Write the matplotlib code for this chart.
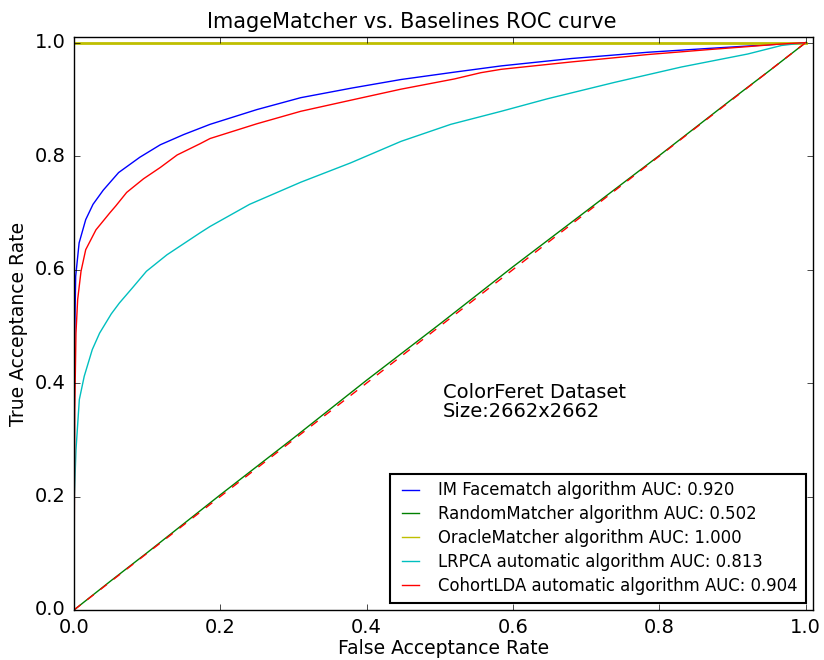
import numpy as np
import matplotlib
matplotlib.use("Agg")
import matplotlib.pyplot as plt

plt.style.use("classic")

# ROC points (FAR, TAR)
im_far = [0, 0.0005, 0.0023, 0.007, 0.016, 0.026, 0.04, 0.061, 0.09, 0.118, 0.15, 0.186,
          0.25, 0.31, 0.38, 0.447, 0.52, 0.584, 0.68, 0.784, 0.87, 0.921, 0.96, 1.0]
im_tar = [0, 0.45, 0.588, 0.647, 0.688, 0.715, 0.74, 0.771, 0.798, 0.82, 0.838, 0.856,
          0.882, 0.903, 0.92, 0.935, 0.948, 0.959, 0.972, 0.983, 0.99, 0.994, 0.997, 1.0]

rand_far = [0, 0.05, 0.1, 0.2, 0.3, 0.4, 0.5, 0.6, 0.7, 0.8, 0.9, 0.95, 1.0]
rand_tar = [0, 0.051, 0.101, 0.203, 0.303, 0.405, 0.504, 0.605, 0.703, 0.801, 0.901, 0.95, 1.0]

oracle_far = [0, 1.0]
oracle_tar = [1.0, 1.0]

lrpca_far = [0, 0.0005, 0.0027, 0.0073, 0.014, 0.025, 0.035, 0.051, 0.062, 0.080, 0.099, 0.127,
             0.1726, 0.186, 0.24, 0.31, 0.378, 0.447, 0.515, 0.584, 0.647, 0.739, 0.830,
             0.921, 0.967, 1.0]
lrpca_tar = [0, 0.2, 0.282, 0.371, 0.412, 0.459, 0.488, 0.522, 0.541, 0.568, 0.597, 0.626,
             0.665, 0.676, 0.715, 0.754, 0.788, 0.826, 0.856, 0.879, 0.901, 0.930, 0.957,
             0.980, 0.995, 1.0]

lda_far = [0, 0.0003, 0.001, 0.0027, 0.005, 0.0096, 0.016, 0.030, 0.049, 0.057, 0.072, 0.095,
           0.118, 0.141, 0.1726, 0.186, 0.25, 0.31, 0.38, 0.447, 0.52, 0.556, 0.584, 0.68,
           0.784, 0.87, 0.921, 0.96, 1.0]
lda_tar = [0, 0.1, 0.35, 0.488, 0.547, 0.597, 0.635, 0.670, 0.700, 0.712, 0.736, 0.760,
           0.78, 0.802, 0.822, 0.831, 0.857, 0.879, 0.899, 0.918, 0.936, 0.947, 0.953, 0.966,
           0.979, 0.988, 0.993, 0.997, 1.0]

labels = ["IM Facematch algorithm AUC: 0.920",
          "RandomMatcher algorithm AUC: 0.502",
          "OracleMatcher algorithm AUC: 1.000",
          "LRPCA automatic algorithm AUC: 0.813",
          "CohortLDA automatic algorithm AUC: 0.904"]

fig = plt.figure(figsize=(8.24, 6.6), dpi=100, facecolor="white")
ax = fig.add_axes([0.0898, 0.0758, 0.8968, 0.8682])

ax.plot(im_far, im_tar, color="b", lw=1.0, label=labels[0])
ax.plot(rand_far, rand_tar, color="g", lw=1.0, label=labels[1])
ax.plot(oracle_far, oracle_tar, color="y", lw=2.0, label=labels[2])
ax.plot(lrpca_far, lrpca_tar, color="c", lw=1.0, label=labels[3])
ax.plot(lda_far, lda_tar, color="r", lw=1.0, label=labels[4])
ax.plot([0, 1], [0, 1], "r--", lw=1.0)

ax.set_xlim(0, 1.01)
ax.set_ylim(0, 1.01)
ax.set_xticks(np.arange(0, 1.01, 0.2))
ax.set_yticks(np.arange(0, 1.01, 0.2))
ax.tick_params(labelsize=14, pad=6)

# title is centred on the figure, not on the axes
fig.text(0.5, 0.958, "ImageMatcher vs. Baselines ROC curve", fontsize=15,
         ha="center", va="baseline")
ax.set_xlabel("False Acceptance Rate", fontsize=13.5, labelpad=1)
ax.set_ylabel("True Acceptance Rate", fontsize=13.5)

ax.text(0.504, 0.3406, "ColorFeret Dataset\nSize:2662x2662", fontsize=14,
        linespacing=1.0, va="baseline")

leg = ax.legend(loc="lower right", fontsize=11.9, handlelength=1.6, handletextpad=0.9,
                borderpad=0.45, labelspacing=0.36, borderaxespad=0.45)
leg.get_frame().set_linewidth(1.5)
for line in leg.get_lines():
    line.set_linewidth(1.0)

fig.savefig("out.png", dpi=100, facecolor="white")
